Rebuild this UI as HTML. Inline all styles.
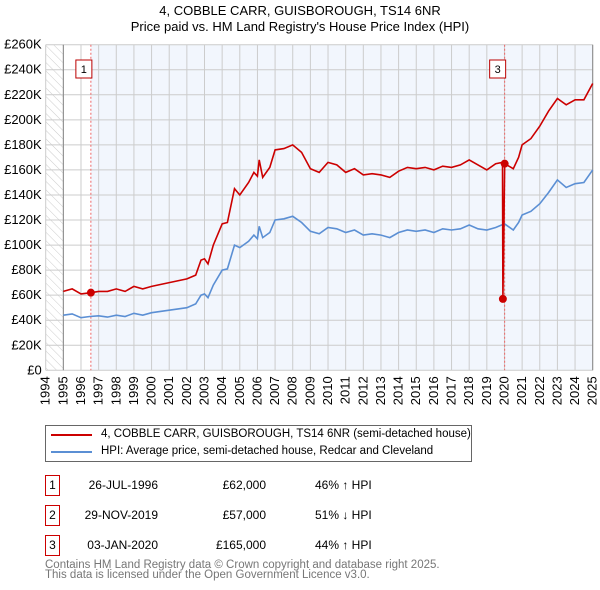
<!DOCTYPE html>
<html><head><meta charset="utf-8"><style>
body{margin:0;background:#fff;font-family:"Liberation Sans","DejaVu Sans",sans-serif;}
#wrap{position:relative;width:600px;height:590px;overflow:hidden;}
.t{position:absolute;font-size:12px;color:#000;white-space:nowrap;}
</style></head><body><div id="wrap">
<div class="t" style="left:0;width:600px;text-align:center;top:3px;font-size:13px;line-height:16px">4, COBBLE CARR, GUISBOROUGH, TS14 6NR<br>Price paid vs. HM Land Registry's House Price Index (HPI)</div>
<svg id="chart" width="600" height="420" style="position:absolute;left:0;top:0"></svg>
<div style="position:absolute;left:45px;top:425px;width:427px;height:37px;border:1px solid #666;box-sizing:border-box">
<div style="position:absolute;left:5px;top:8px;width:41px;border-top:2px solid #cc0000"></div>
<div class="t" style="left:55px;top:2px;font-size:11.5px">4, COBBLE CARR, GUISBOROUGH, TS14 6NR (semi-detached house)</div>
<div style="position:absolute;left:5px;top:25px;width:41px;border-top:2px solid #5b8fd4"></div>
<div class="t" style="left:55px;top:19px;font-size:11.5px">HPI: Average price, semi-detached house, Redcar and Cleveland</div>
</div>
<div id="rows"></div>
<div class="t" style="left:45px;top:560px;font-size:11.5px;line-height:10px;color:#777">Contains HM Land Registry data © Crown copyright and database right 2025.<br>This data is licensed under the Open Government Licence v3.0.</div>
</div>
<script>
const hpiYears=[1995,1995.5,1996,1996.5,1997,1997.5,1998,1998.5,1999,1999.5,2000,2001,2002,2002.5,2002.8,2003,2003.2,2003.5,2004,2004.3,2004.7,2005,2005.5,2005.8,2006,2006.1,2006.3,2006.7,2007,2007.5,2008,2008.5,2009,2009.5,2010,2010.5,2011,2011.5,2012,2012.5,2013,2013.5,2014,2014.5,2015,2015.5,2016,2016.5,2017,2017.5,2018,2018.5,2019,2019.5,2020,2020.5,2020.8,2021,2021.5,2022,2022.5,2023,2023.5,2024,2024.5,2025];
const hpiValues=[44,45,42,43,43.5,42.5,44,43,45.5,44,46,48,50,53,60,61,58,68,80,81,100,98,103,108,105,115,106,110,120,121,123,118,111,109,114,113,110,112,108,109,108,106,110,112,111,112,110,113,112,113,116,113,112,114,117,112,118,124,127,133,142,152,146,149,150,160];
const priceYears=[1995,1995.5,1996,1996.56,1997,1997.5,1998,1998.5,1999,1999.5,2000,2001,2002,2002.5,2002.8,2003,2003.2,2003.5,2004,2004.3,2004.7,2005,2005.5,2005.8,2006,2006.1,2006.3,2006.7,2007,2007.5,2008,2008.5,2009,2009.5,2010,2010.5,2011,2011.5,2012,2012.5,2013,2013.5,2014,2014.5,2015,2015.5,2016,2016.5,2017,2017.5,2018,2018.5,2019,2019.5,2019.89,2019.91,2020.01,2020.5,2020.8,2021,2021.5,2022,2022.5,2023,2023.5,2024,2024.5,2025];
const priceValues=[63,65,61,62,63,63,65,63,67,65,67,70,73,76,88,89,85,100,117,118,145,140,150,158,155,168,154,162,176,177,180,174,161,158,166,164,158,161,156,157,156,154,159,162,161,162,160,163,162,164,168,164,160,165,166,57,165,161,170,180,185,195,207,217,212,216,216,229];
const saleYears=[1996.56,2019.91,2020.01];
const saleValues=[62,57,165];
const saleLabels=["1","2","3"];
const saleDates=["26-JUL-1996","29-NOV-2019","03-JAN-2020"];
const salePrices=["£62,000","£57,000","£165,000"];
const saleHpi=["46% ↑ HPI","51% ↓ HPI","44% ↑ HPI"];
const yTicks=[0,20,40,60,80,100,120,140,160,180,200,220,240,260];
const xTicks=[1994,1995,1996,1997,1998,1999,2000,2001,2002,2003,2004,2005,2006,2007,2008,2009,2010,2011,2012,2013,2014,2015,2016,2017,2018,2019,2020,2021,2022,2023,2024,2025];

const X0=45.7,X1=592.7,Y0=370.3,Y1=44.7;
const xs=y=>X0+(y-1994)/31*(X1-X0);
const ys=v=>Y0-v/260*(Y0-Y1);
const NS="http://www.w3.org/2000/svg";
const svg=document.getElementById('chart');
function mk(tag,attrs){const e=document.createElementNS(NS,tag);for(const k in attrs)e.setAttribute(k,attrs[k]);svg.appendChild(e);return e;}
const defs=mk('defs',{});
defs.innerHTML='<pattern id="hatch" width="6" height="6" patternUnits="userSpaceOnUse" patternTransform="rotate(-45)"><line x1="0" y1="0" x2="0" y2="6" stroke="#ccc" stroke-width="1"/></pattern>';
let r=mk('rect',{x:X0,y:Y1,width:xs(1995)-X0,height:Y0-Y1,fill:'url(#hatch)'});


r=mk('rect',{x:xs(saleYears[0]),y:Y1,width:X1-xs(saleYears[0]),height:Y0-Y1,fill:'#f2f6fd'});


yTicks.forEach(v=>{
 const l=mk('line',{x1:X0,x2:X1,y1:ys(v),y2:ys(v),stroke:'#ccc','stroke-width':1});
 
 
 const t=mk('text',{x:X0-4,y:ys(v)+4,'text-anchor':'end','font-size':13,fill:'#000'});
 t.textContent='£'+(v?v+'K':'0');
 
 
});
xTicks.forEach(y=>{
 const l=mk('line',{x1:xs(y),x2:xs(y),y1:Y1,y2:Y0,stroke:'#ccc','stroke-width':1});
 
 
 const t=mk('text',{x:0,y:0,'text-anchor':'end','font-size':13,fill:'#000',transform:`translate(${xs(y)+4},${Y0+6}) rotate(-90)`});
 t.textContent=y;
 
 
});
let ax=mk('line',{x1:xs(1995),x2:xs(1995),y1:Y1,y2:Y0,stroke:'#888'});


ax=mk('line',{x1:X1,x2:X1,y1:Y1,y2:Y0,stroke:'#888'});


saleYears.forEach((y,i)=>{
 if(i==1)return;
 const l=mk('line',{x1:xs(y),x2:xs(y),y1:Y1,y2:Y0,stroke:'#e66','stroke-width':1,'stroke-dasharray':'2,2'});
 
 
});
saleYears.forEach((y,i)=>{
 if(i==1)return;
 const b=mk('rect',{x:xs(y)-15,y:60,width:16,height:18,fill:'#fff',stroke:'#b00'});
 
 
 const t=mk('text',{x:xs(y)-7,y:73,'text-anchor':'middle','font-size':11});
 t.textContent=saleLabels[i];
 
 
});
const pth=(xa,va)=>xa.map((y,i)=>(i?'L':'M')+xs(y).toFixed(1)+','+ys(va[i]).toFixed(1)).join('');
let p=mk('path',{d:pth(hpiYears,hpiValues),fill:'none',stroke:'#5b8fd4','stroke-width':1.6});


p=mk('path',{d:pth(priceYears,priceValues),fill:'none',stroke:'#cc0000','stroke-width':1.6});


saleYears.forEach((y,i)=>{
 const c=mk('circle',{cx:xs(y),cy:ys(saleValues[i]),r:4,fill:'#cc0000'});
 
 
});
const rows=document.getElementById('rows');
saleLabels.forEach((lab,i)=>{
 const top=475+i*30;
 const d=document.createElement('div');
 
 
 d.innerHTML=`<div class="t" style="left:45px;top:${top}px;width:13px;height:19px;border:1px solid #c00;text-align:center;line-height:19px;font-size:12px">${lab}</div>
<div class="t" style="left:70px;top:${top+3}px;width:88px;text-align:right;font-size:12px">${saleDates[i]}</div>
<div class="t" style="left:186px;top:${top+3}px;width:80px;text-align:right;font-size:12px">${salePrices[i]}</div>
<div class="t" style="left:315px;top:${top+3}px;font-size:12px">${saleHpi[i]}</div>`;
 rows.appendChild(d);
});
</script></body></html>
